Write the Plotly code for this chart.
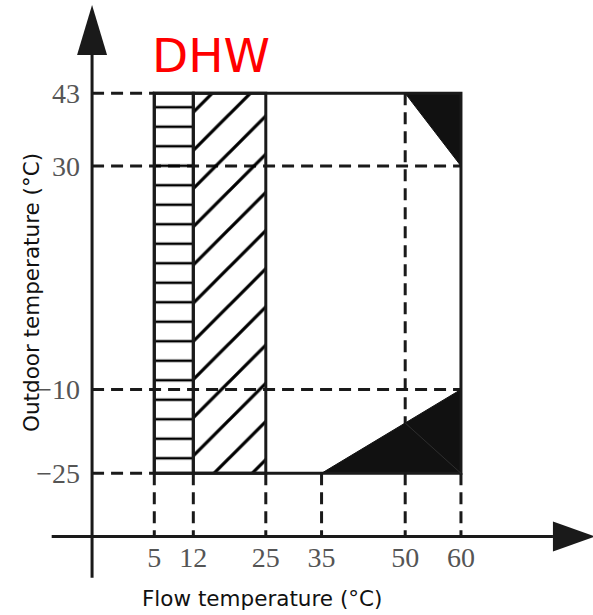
import plotly.graph_objects as go

# ---------------- data ----------------
flow_ticks = [5, 12, 25, 35, 50, 60]          # Flow temperature (°C)
outdoor_ticks = [43, 30, -10, -25]            # Outdoor temperature (°C)

# dashed guide lines
outdoor_guide_to_flow = [5, 60, 60, 5]        # each outdoor tick's guide runs to this flow value
flow_guide_from_outdoor = [-25, -25, -25, -25, 43, -25]  # each flow tick's guide starts here

# operating envelope
env_flow = [5, 60]
env_outdoor = [-25, 43]

# zones
zone_h_flow = [5, 12]        # horizontal hatching
zone_d_flow = [12, 25]       # diagonal hatching
zone_outdoor = [-25, 43]

# blocked corners (black)
top_block_flow = [50, 60, 60]
top_block_outdoor = [43, 43, 30]
bottom_block_flow = [35, 60, 60]
bottom_block_outdoor = [-25, -25, -10]
inner_mark_flow = [50, 60]
inner_mark_outdoor = [-16, -25]

# axes placement (data units)
flow_axis_at = -36.3      # outdoor value where the flow axis is drawn
outdoor_axis_at = -6.16   # flow value where the outdoor axis is drawn
flow_axis_span = [-13.4, 76.5]
outdoor_axis_span = [-43.7, 49.85]

# ---------------- style ----------------
W, H = 593, 615
XR = [-22.67, 83.68]
YR = [-50.36, 59.70]
INK = "#1a1a1a"
LW = 3
DASH = "12px,7px"
CLEAR = "rgba(0,0,0,0)"


def rect_xy(xs, ys):
    return ([xs[0], xs[1], xs[1], xs[0], xs[0]],
            [ys[0], ys[0], ys[1], ys[1], ys[0]])


fig = go.Figure()

# horizontal hatched zone
hx, hy = rect_xy(zone_h_flow, zone_outdoor)
fig.add_trace(go.Scatter(
    x=hx, y=hy, mode="lines", fill="toself", fillcolor=CLEAR,
    fillpattern=dict(shape="-", size=19.5, solidity=0.13, fgcolor="#000000",
                     fgopacity=1, bgcolor=CLEAR),
    line=dict(color=INK, width=LW), hoverinfo="skip", showlegend=False))

# diagonal hatched zone
dx, dy = rect_xy(zone_d_flow, zone_outdoor)
fig.add_trace(go.Scatter(
    x=dx, y=dy, mode="lines", fill="toself", fillcolor=CLEAR,
    fillpattern=dict(shape="/", size=27, solidity=0.12, fgcolor="#000000",
                     fgopacity=1, bgcolor=CLEAR),
    line=dict(color=INK, width=LW), hoverinfo="skip", showlegend=False))

# black corners
for fx, fy in [(top_block_flow, top_block_outdoor), (bottom_block_flow, bottom_block_outdoor)]:
    fig.add_trace(go.Scatter(
        x=fx + [fx[0]], y=fy + [fy[0]], mode="lines", fill="toself",
        fillcolor="#111111", line=dict(color="#111111", width=1),
        hoverinfo="skip", showlegend=False))

shapes = []
# dashed guides
for t, end in zip(outdoor_ticks, outdoor_guide_to_flow):
    shapes.append(dict(type="line", xref="x", yref="y", x0=outdoor_axis_at, x1=end,
                       y0=t, y1=t, layer="below", line=dict(color=INK, width=LW, dash=DASH)))
for t, start in zip(flow_ticks, flow_guide_from_outdoor):
    shapes.append(dict(type="line", xref="x", yref="y", x0=t, x1=t, layer="below",
                       y0=start, y1=flow_axis_at, line=dict(color=INK, width=LW, dash=DASH)))

# envelope
shapes.append(dict(type="rect", xref="x", yref="y", x0=env_flow[0], x1=env_flow[1],
                   y0=env_outdoor[0], y1=env_outdoor[1], line=dict(color=INK, width=LW)))

# faint inner mark in the lower block
shapes.append(dict(type="line", xref="x", yref="y", x0=inner_mark_flow[0], x1=inner_mark_flow[1],
                   y0=inner_mark_outdoor[0], y1=inner_mark_outdoor[1],
                   line=dict(color="#2e2e2e", width=1)))

# axis lines
shapes.append(dict(type="line", xref="x", yref="y", x0=flow_axis_span[0], x1=flow_axis_span[1],
                   y0=flow_axis_at, y1=flow_axis_at, line=dict(color=INK, width=LW)))
shapes.append(dict(type="line", xref="x", yref="y", x0=outdoor_axis_at, x1=outdoor_axis_at,
                   y0=outdoor_axis_span[0], y1=outdoor_axis_span[1], line=dict(color=INK, width=LW)))
# arrow heads
shapes.append(dict(type="path", xref="x", yref="y", xsizemode="pixel", ysizemode="pixel",
                   xanchor=outdoor_axis_at, yanchor=outdoor_axis_span[1],
                   path="M -15,0 L 15,0 L 0,50 Z", fillcolor=INK, line=dict(width=0)))
shapes.append(dict(type="path", xref="x", yref="y", xsizemode="pixel", ysizemode="pixel",
                   xanchor=flow_axis_span[1], yanchor=flow_axis_at,
                   path="M 0,-15 L 0,15 L 42,0 Z", fillcolor=INK, line=dict(width=0)))

tickfont = dict(family="Liberation Serif", size=28, color="#555555")

fig.update_layout(
    width=W, height=H,
    margin=dict(l=0, r=0, t=0, b=0),
    paper_bgcolor="white", plot_bgcolor="white",
    shapes=shapes,
    xaxis=dict(range=XR, showgrid=False, zeroline=False, showline=False,
               tickmode="array", tickvals=flow_ticks, ticks="",
               tickfont=tickfont, ticklabelstandoff=2,
               anchor="free", position=(flow_axis_at - YR[0]) / (YR[1] - YR[0])),
    yaxis=dict(range=YR, showgrid=False, zeroline=False, showline=False,
               tickmode="array", tickvals=outdoor_ticks, ticks="",
               tickfont=tickfont, ticklabelstandoff=12,
               anchor="free", position=(outdoor_axis_at - XR[0]) / (XR[1] - XR[0])),
    annotations=[
        dict(text="DHW", xref="paper", yref="paper", x=211 / W, y=1 - 55 / H,
             xanchor="center", yanchor="middle", showarrow=False,
             font=dict(family="DejaVu Sans", size=47, color="#ff0000")),
        dict(text="Flow temperature (°C)", xref="paper", yref="paper", x=262 / W, y=1 - 598 / H,
             xanchor="center", yanchor="middle", showarrow=False,
             font=dict(family="DejaVu Sans", size=21.5, color="#111111")),
        dict(text="Outdoor temperature (°C)", xref="paper", yref="paper", x=31 / W, y=1 - 293 / H,
             xanchor="center", yanchor="middle", showarrow=False, textangle=-90,
             font=dict(family="DejaVu Sans", size=21.5, color="#111111")),
    ],
)

fig.write_html("out.html", config={"displayModeBar": False},
               post_script="document.body.style.margin='0';")
